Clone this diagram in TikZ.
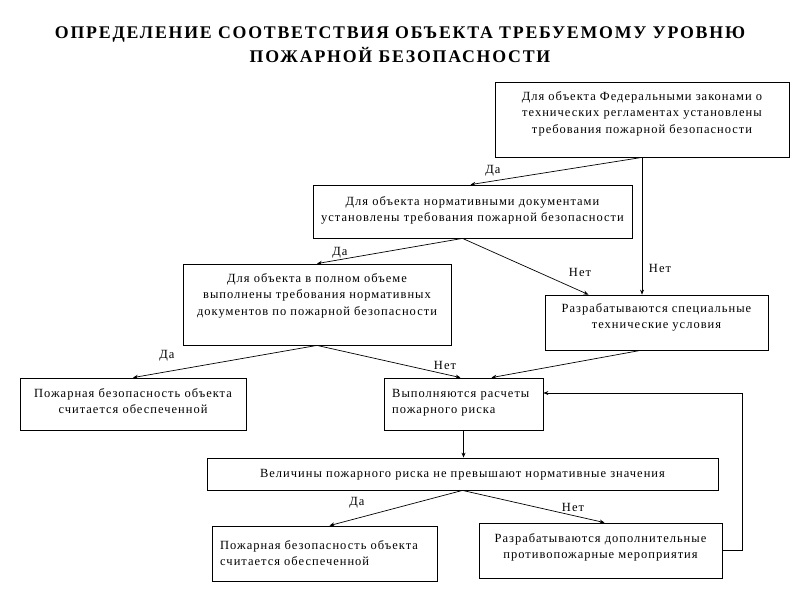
\documentclass[tikz,border=0pt]{standalone}
\usepackage{fontspec}
\setmainfont{Liberation Serif}
\newfontfamily\bodyfont{Liberation Serif}[LetterSpace=8]
\newfontfamily\headfont{Liberation Serif}[LetterSpace=10]
\usetikzlibrary{arrows.meta,calc}
\begin{document}
\begin{tikzpicture}[x=1pt,y=-1pt,
  box/.style={draw, line width=0.8pt, inner sep=0pt},
  txt/.style={inner sep=0pt, align=center, anchor=north, font=\bodyfont\fontsize{12.5}{16.5}\selectfont},
  ltxt/.style={txt, align=left, anchor=north west},
  arr/.style={line width=0.7pt, -{Stealth[length=5pt,width=4pt]}},
  lab/.style={inner sep=0pt, font=\bodyfont\fontsize{12.5}{14}\selectfont}]
\useasboundingbox (0,0) rectangle (800,600);
\fill[white] (0,0) rectangle (800,600);
\node[inner sep=0pt, align=center, anchor=north, font=\headfont\fontsize{17.8}{24}\selectfont\bfseries] (title) at (400,21)
  {\strut ОПРЕДЕЛЕНИЕ СООТВЕТСТВИЯ ОБЪЕКТА ТРЕБУЕМОМУ УРОВНЮ\\ПОЖАРНОЙ БЕЗОПАСНОСТИ};
% boxes
\node[box, minimum width=294, minimum height=75] (A) at (642,119.5) {};
\node[box, minimum width=319, minimum height=53] (B) at (472.5,211.5) {};
\node[box, minimum width=268, minimum height=81] (C) at (317,304.5) {};
\node[box, minimum width=223, minimum height=55] (D) at (656.5,322.5) {};
\node[box, minimum width=226, minimum height=52] (E) at (133,404) {};
\node[box, minimum width=159, minimum height=52] (F) at (463.5,404) {};
\node[box, minimum width=511, minimum height=32] (G) at (462.5,474) {};
\node[box, minimum width=225, minimum height=55] (H) at (324.5,553.5) {};
\node[box, minimum width=243, minimum height=55] (I) at (600.5,550.5) {};
% texts
\node[txt] (At) at (642,88.5)
  {\strut Для объекта Федеральными законами о\\технических регламентах установлены\\требования пожарной безопасности};
\node[txt] (Bt) at (472.5,193.5)
  {\strut Для объекта нормативными документами\\установлены требования пожарной безопасности};
\node[txt] (Ct) at (317,270.5)
  {\strut Для объекта в полном объеме\\выполнены требования нормативных\\документов по пожарной безопасности};
\node[txt] (Dt) at (656.5,300.5)
  {\strut Разрабатываются специальные\\технические условия};
\node[txt] (Et) at (133,385.5)
  {\strut Пожарная безопасность объекта\\считается обеспеченной};
\node[ltxt] (Ft) at (392,385.5)
  {\strut Выполняются расчеты\\пожарного риска};
\node[txt] (Gt) at (462.5,465.5)
  {\strut Величины пожарного риска не превышают нормативные значения};
\node[ltxt] (Ht) at (220,537.5)
  {\strut Пожарная безопасность объекта\\считается обеспеченной};
\node[txt] (It) at (600.5,530.5)
  {\strut Разрабатываются дополнительные\\противопожарные мероприятия};
% connectors
\draw[arr] (A.south) -- ($(B.north)+(-2,0)$);
\draw[arr] (A.south) -- (A.south |- D.north);
\draw[arr] ($(B.south)+(-10,0)$) -- (C.north);
\draw[arr] ($(B.south)+(-10,0)$) -- ($(D.north)+(-68,0)$);
\draw[arr] (C.south) -- (E.north);
\draw[arr] (C.south) -- ($(F.north)+(-3,0)$);
\draw[arr] ($(D.south)+(-16,0)$) -- ($(F.north)+(28,0)$);
\draw[arr] (F.south) -- (F.south |- G.north);
\draw[arr] (G.south) -- ($(H.north)+(5,0)$);
\draw[arr] (G.south) -- ($(I.north)+(4,0)$);
\draw[arr] (I.east) -- ++(20,0) |- ($(F.east)+(0,-11)$);
% labels
\node[lab] (l1) at (493,171) {Да};
\node[lab] (l2) at (660,268) {Нет};
\node[lab] (l3) at (340,253) {Да};
\node[lab] (l4) at (580,272) {Нет};
\node[lab] (l5) at (167,356) {Да};
\node[lab] (l6) at (445,365) {Нет};
\node[lab] (l7) at (357,503) {Да};
\node[lab] (l8) at (573,507) {Нет};
\end{tikzpicture}
\end{document}
